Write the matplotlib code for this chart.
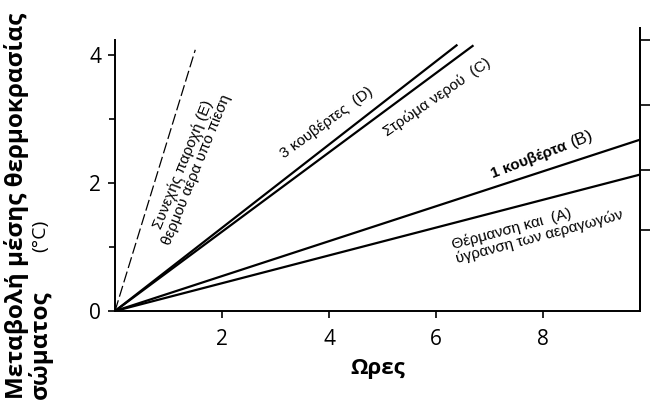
import numpy as np
import matplotlib.pyplot as plt

# line end points (all lines start at the origin)
labels = ['A', 'B', 'C', 'D', 'E']
x_end = [9.9, 9.9, 6.7, 6.4, 1.5]
y_end = [2.15, 2.7, 4.15, 4.16, 4.08]
styles = ['-', '-', '-', '-', (0, (9, 3))]

x_ticks = [2, 4, 6, 8]
y_ticks = [0, 2, 4]
y_minor = [1, 3]
right_ticks = [1.27, 2.2, 3.22, 4.23]

plt.rcParams['font.family'] = ['Open Sans', 'DejaVu Sans']

fig = plt.figure(figsize=(6.52, 4.01), dpi=100)
ax = fig.add_axes([0.1764, 0.2244, 0.805, 0.7057])

for k in range(len(labels)):
    lw = 0.9 if labels[k] == 'E' else 1.6
    ax.plot([0, x_end[k]], [0, y_end[k]], color='black', lw=lw,
            linestyle=styles[k], solid_capstyle='butt')

ax.set_xlim(0, 9.81)
ax.set_ylim(0, 4.42)

ax.spines['top'].set_visible(False)
ax.spines['left'].set_bounds(0, 4.23)
for s in ['left', 'bottom', 'right']:
    ax.spines[s].set_linewidth(1.4)

ax.set_xticks(x_ticks)
ax.set_yticks(y_ticks)
ax.set_yticks(y_minor, minor=True)
ax.tick_params(axis='both', which='major', length=5, width=1.2,
               labelsize=15, pad=5)
ax.tick_params(axis='y', which='minor', length=4, width=1.2)
ax.tick_params(axis='x', pad=8)

ax2 = ax.twinx()
ax2.set_ylim(0, 4.42)
ax2.set_yticks(right_ticks)
ax2.set_yticklabels([])
ax2.tick_params(axis='y', length=7, width=1.2)
for s in ['top', 'left', 'bottom']:
    ax2.spines[s].set_visible(False)
ax2.spines['right'].set_linewidth(1.4)

# annotations along the lines
ann = dict(family=['Liberation Sans', 'DejaVu Sans'], fontsize=11,
           rotation_mode='anchor', ha='center', va='center')
ax.text(1.40, 2.25, 'Συνεχής παροχή (Ε)\nθερμού αέρα υπό πίεση',
        rotation=68, linespacing=1.0, **ann)
ax.text(3.96, 2.94, '3 κουβέρτες  (D)', rotation=36, **ann)
ax.text(6.02, 3.34, 'Στρώμα νερού  (C)', rotation=34.5, **ann)
ax.text(7.74, 2.36, '1 κουβέρτα', rotation=21, fontweight='bold', **ann)
ax.text(8.72, 2.69, '(B)', rotation=21, fontsize=12.5,
        family=['Liberation Sans', 'DejaVu Sans'], rotation_mode='anchor',
        ha='center', va='center')
ax.text(7.9, 1.27, 'Θέρμανση και  (A)\nύγρανση των αεραγωγών',
        rotation=15, multialignment='left', linespacing=1.0, **ann)

ax.set_xlabel('Ωρες', fontsize=16, fontweight='bold', labelpad=6)

fig.text(0.025, 0.006, 'Μεταβολή μέσης θερμοκρασίας', rotation=90,
         ha='center', va='bottom', fontsize=17.5, fontweight='bold')
fig.text(0.062, 0.006, 'σώματος', rotation=90,
         ha='center', va='bottom', fontsize=17.5, fontweight='bold')
fig.text(0.062, 0.372, '(°C)', rotation=90,
         ha='center', va='bottom', fontsize=14)

plt.savefig('out.png', dpi=100)
